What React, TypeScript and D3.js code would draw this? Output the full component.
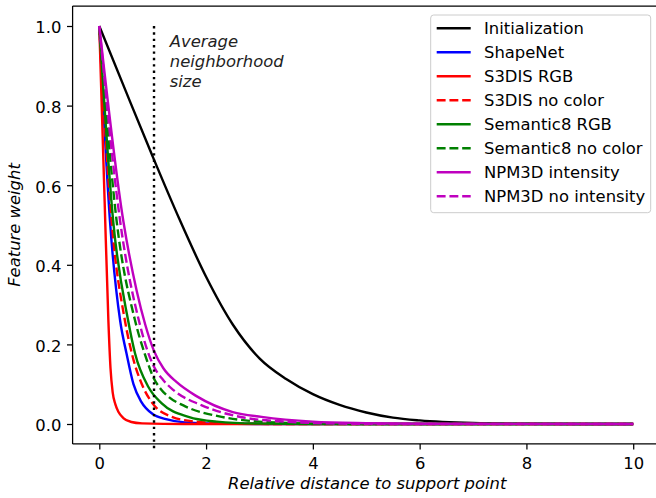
import { useEffect, useRef } from "react";
import * as d3 from "d3";

// tick values
const xTicks = [0, 2, 4, 6, 8, 10];
const yTicks = [0.0, 0.2, 0.4, 0.6, 0.8, 1.0];

// curves (x = relative distance, y = feature weight)
const initX = [0, 0.5, 1, 1.5, 2, 2.5, 3, 3.5, 4, 4.5, 5, 5.5, 6, 7, 8, 9, 10];
const initY = [1.0, 0.835, 0.672, 0.515, 0.37, 0.25, 0.165, 0.113, 0.075, 0.048, 0.029, 0.016, 0.009, 0.0025, 0.0006, 0.0001, 0];

const shapeNetX = [0, 0.2, 0.39, 0.51, 0.64, 0.79, 1.0, 1.25, 1.6, 2.2, 3, 10];
const shapeNetY = [1, 0.51, 0.26, 0.177, 0.1, 0.055, 0.025, 0.012, 0.004, 0.001, 0, 0];

const s3disRgbX = [0, 0.1, 0.17, 0.21, 0.25, 0.3, 0.36, 0.45, 0.6, 0.8, 1.2, 2, 10];
const s3disRgbY = [1, 0.56, 0.26, 0.14, 0.08, 0.05, 0.03, 0.015, 0.005, 0.0015, 0.0002, 0, 0];

const s3disNoColX = [0, 0.23, 0.48, 0.61, 0.82, 0.98, 1.36, 1.8, 2.5, 3.5, 10];
const s3disNoColY = [1, 0.51, 0.26, 0.177, 0.093, 0.055, 0.018, 0.006, 0.001, 0, 0];

const sem8RgbX = [0, 0.26, 0.54, 0.67, 0.92, 1.17, 1.67, 2.2, 3, 4, 10];
const sem8RgbY = [1, 0.51, 0.26, 0.177, 0.093, 0.052, 0.018, 0.006, 0.001, 0, 0];

const sem8NoColX = [0, 0.325, 0.67, 0.85, 1.02, 1.15, 1.3, 1.6, 2.29, 3, 4, 5, 10];
const sem8NoColY = [1, 0.51, 0.26, 0.177, 0.115, 0.088, 0.068, 0.045, 0.018, 0.006, 0.001, 0, 0];

const npmIntX = [0, 0.45, 0.7, 0.86, 1.02, 1.2, 1.45, 1.82, 2.5, 3.04, 4, 5, 6, 10];
const npmIntY = [1, 0.51, 0.335, 0.25, 0.185, 0.14, 0.105, 0.07, 0.03, 0.018, 0.006, 0.002, 0.0005, 0];

const npmNoIntX = [0, 0.39, 0.76, 0.9, 1.02, 1.2, 1.39, 1.92, 2.67, 3.5, 4.5, 6, 10];
const npmNoIntY = [1, 0.51, 0.25, 0.185, 0.145, 0.11, 0.085, 0.047, 0.017, 0.006, 0.001, 0, 0];

const seriesList = [
  { label: "Initialization", xs: initX, ys: initY, color: "#000000", dashed: false },
  { label: "ShapeNet", xs: shapeNetX, ys: shapeNetY, color: "#0000ff", dashed: false },
  { label: "S3DIS RGB", xs: s3disRgbX, ys: s3disRgbY, color: "#ff0000", dashed: false },
  { label: "S3DIS no color", xs: s3disNoColX, ys: s3disNoColY, color: "#ff0000", dashed: true },
  { label: "Semantic8 RGB", xs: sem8RgbX, ys: sem8RgbY, color: "#008000", dashed: false },
  { label: "Semantic8 no color", xs: sem8NoColX, ys: sem8NoColY, color: "#008000", dashed: true },
  { label: "NPM3D intensity", xs: npmIntX, ys: npmIntY, color: "#bf00bf", dashed: false },
  { label: "NPM3D no intensity", xs: npmNoIntX, ys: npmNoIntY, color: "#bf00bf", dashed: true },
];

// vertical marker and its note
const neighborhoodX = 1.025;
const neighborhoodYRange = [-0.07, 1.0];
const noteLines = ["Average", "neighborhood", "size"];
const noteX = 1.32;
const noteY = 0.948;

export default function App() {
  const svgRef = useRef(null);

  useEffect(() => {
    const width = 656, height = 498;
    const font = "DejaVu Sans, sans-serif";
    const fs = 16.4;
    const lw = 2.4;

    const svg = d3.select(svgRef.current);
    svg.selectAll("*").remove();
    svg.attr("width", width).attr("height", height);

    const x = d3.scaleLinear().domain([-0.5, 10.5]).range([72.6, 659.9]);
    const y = d3.scaleLinear().domain([-0.05, 1.05]).range([443.9, 6.1]);

    // spines
    const [x0, x1] = x.range();
    const [y0, y1] = y.range();
    const spines = svg.append("g").attr("stroke", "#000").attr("stroke-width", 1.25);
    spines.append("line").attr("x1", x0).attr("x2", x0).attr("y1", y0).attr("y2", y1);
    spines.append("line").attr("x1", x0).attr("x2", x1).attr("y1", y0).attr("y2", y0);
    spines.append("line").attr("x1", x0).attr("x2", x1).attr("y1", y1).attr("y2", y1);
    spines.append("line").attr("x1", x1).attr("x2", x1).attr("y1", y0).attr("y2", y1);

    // x axis
    const gx = svg.append("g")
      .attr("transform", `translate(0, ${y0})`)
      .call(d3.axisBottom(x).tickValues(xTicks).tickSize(5.6).tickPadding(5.6).tickSizeOuter(0).tickFormat(d3.format("d")));
    gx.select(".domain").remove();
    gx.selectAll("line").attr("stroke", "#000").attr("stroke-width", 1.25);
    gx.selectAll("text").attr("font-family", font).attr("font-size", fs).attr("fill", "#000").attr("dy", "0.83em");

    // y axis
    const gy = svg.append("g")
      .attr("transform", `translate(${x0}, 0)`)
      .call(d3.axisLeft(y).tickValues(yTicks).tickSize(5.6).tickPadding(5.6).tickSizeOuter(0).tickFormat(d3.format(".1f")));
    gy.select(".domain").remove();
    gy.selectAll("line").attr("stroke", "#000").attr("stroke-width", 1.25);
    gy.selectAll("text").attr("font-family", font).attr("font-size", fs).attr("fill", "#000").attr("dy", "0.42em");

    // axis labels
    svg.append("text")
      .attr("x", (x0 + x1) / 2 + 1)
      .attr("y", 489)
      .attr("text-anchor", "middle")
      .attr("font-family", font).attr("font-size", fs).attr("font-style", "italic")
      .text("Relative distance to support point");

    svg.append("text")
      .attr("transform", `translate(20, ${(y0 + y1) / 2}) rotate(-90)`)
      .attr("text-anchor", "middle")
      .attr("font-family", font).attr("font-size", fs).attr("font-style", "italic")
      .text("Feature weight");

    // curves
    const line = d3.line()
      .x((d) => x(d[0]))
      .y((d) => y(d[1]))
      .curve(d3.curveMonotoneX);

    seriesList.forEach((s) => {
      const pts = s.xs.map((v, i) => [v, s.ys[i]]);
      svg.append("path")
        .attr("d", line(pts))
        .attr("fill", "none")
        .attr("stroke", s.color)
        .attr("stroke-width", lw)
        .attr("stroke-dasharray", s.dashed ? "8.9 3.84" : null);
    });

    // vertical dotted line
    svg.append("line")
      .attr("x1", x(neighborhoodX)).attr("x2", x(neighborhoodX))
      .attr("y1", y(neighborhoodYRange[1])).attr("y2", y(neighborhoodYRange[0]))
      .attr("stroke", "#000").attr("stroke-width", lw)
      .attr("stroke-dasharray", "2.4 3.96");

    const note = svg.append("text")
      .attr("font-family", font).attr("font-size", fs).attr("font-style", "italic")
      .attr("fill", "#222");
    noteLines.forEach((t, i) => {
      note.append("tspan").attr("x", x(noteX)).attr("y", y(noteY) + i * 20).text(t);
    });

    // legend
    const lg = svg.append("g");
    lg.append("rect")
      .attr("x", 430.7).attr("y", 15).attr("width", 220).attr("height", 197.7)
      .attr("rx", 3)
      .attr("fill", "#fff").attr("fill-opacity", 0.8)
      .attr("stroke", "#cccccc").attr("stroke-width", 1);
    seriesList.forEach((s, i) => {
      const cy = 28.3 + i * 24;
      lg.append("line")
        .attr("x1", 436.7).attr("x2", 470.7).attr("y1", cy).attr("y2", cy)
        .attr("stroke", s.color).attr("stroke-width", lw)
        .attr("stroke-dasharray", s.dashed ? "8.9 3.84" : null);
      lg.append("text")
        .attr("x", 484).attr("y", cy + 5.9)
        .attr("font-family", font).attr("font-size", fs).attr("fill", "#000")
        .text(s.label);
    });
  }, []);

  return (
    <svg ref={svgRef} style={{ position: "absolute", left: 0, top: 0, display: "block", background: "#fff" }}></svg>
  );
}
